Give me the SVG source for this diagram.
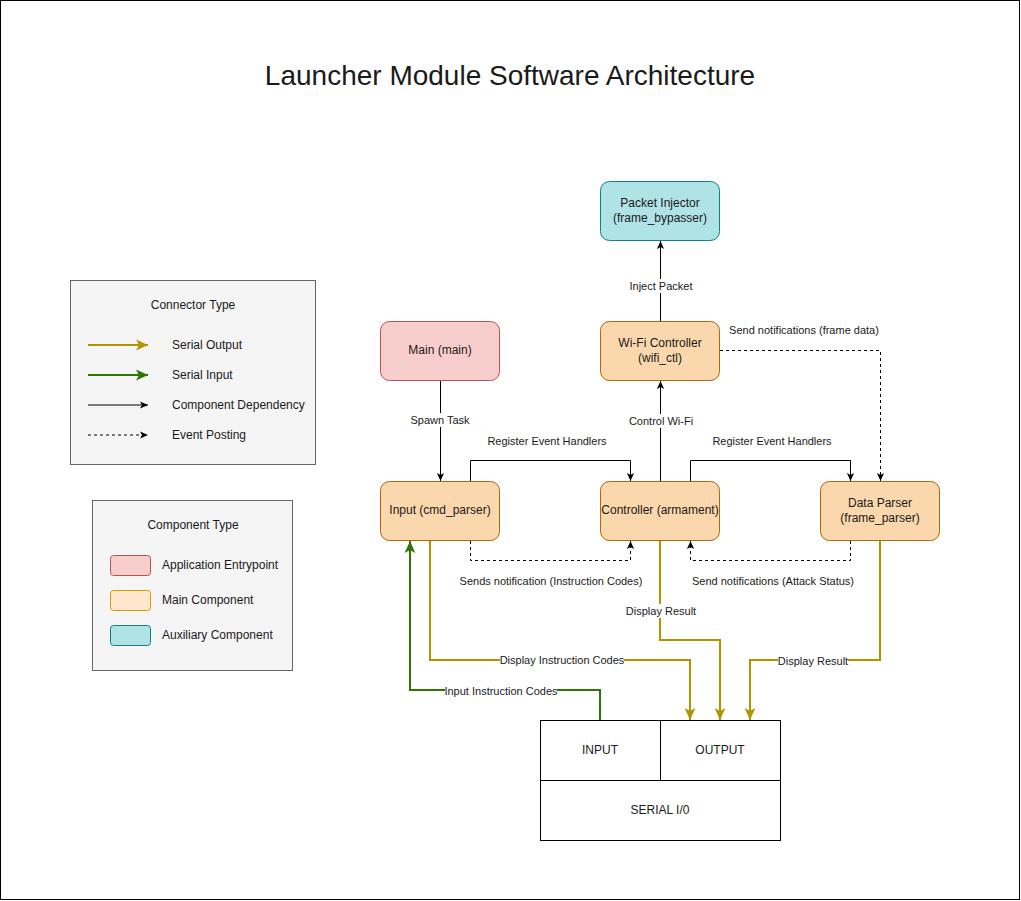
<svg xmlns="http://www.w3.org/2000/svg" width="1021" height="901" viewBox="0 0 1021 901">
<style>
text{font-family:"Liberation Sans",Arial,sans-serif;font-size:12px;fill:#1a1a1a;text-anchor:middle}
.t{dominant-baseline:central}
.lft{text-anchor:start}
.e{font-size:11px}
.main{fill:#fad7ac;stroke:#b46504;stroke-width:1}
.app{fill:#f8cecc;stroke:#b85450;stroke-width:1}
.aux{fill:#b0e3e6;stroke:#0e8088;stroke-width:1}
.mainL{fill:#ffe6cc;stroke:#d79b00;stroke-width:1}
.leg{fill:#f5f5f5;stroke:#666666;stroke-width:1}
.dep{fill:none;stroke:#000;stroke-width:1;marker-end:url(#ab)}
.evt{fill:none;stroke:#000;stroke-width:1;stroke-dasharray:3 3;marker-end:url(#ab)}
.out{fill:none;stroke:#b09500;stroke-width:2;marker-end:url(#ay)}
.in{fill:none;stroke:#2d7600;stroke-width:2;marker-end:url(#ag)}
.lbl{fill:#ffffff}
.cell{fill:#ffffff;stroke:#000;stroke-width:1}
</style>
<defs>
<marker id="ab" viewBox="0 0 10 10" refX="10" refY="5" markerWidth="8" markerHeight="8" markerUnits="userSpaceOnUse" orient="auto"><path d="M0,0.5 L10,5 L0,9.5 L2.5,5 Z" fill="#000"/></marker>
<marker id="ay" viewBox="0 0 10 10" refX="10" refY="5" markerWidth="12" markerHeight="12" markerUnits="userSpaceOnUse" orient="auto"><path d="M0,0.5 L10,5 L0,9.5 L2.5,5 Z" fill="#b09500"/></marker>
<marker id="ag" viewBox="0 0 10 10" refX="10" refY="5" markerWidth="12" markerHeight="12" markerUnits="userSpaceOnUse" orient="auto"><path d="M0,0.5 L10,5 L0,9.5 L2.5,5 Z" fill="#2d7600"/></marker>
</defs>
<rect x="0.5" y="0.5" width="1019" height="899" fill="#ffffff" stroke="#000" stroke-width="1"/>
<text x="510" y="75" class="t" style="font-size:28px">Launcher Module Software Architecture</text>

<g id="legend-connector">
<rect x="70.5" y="280.5" width="245" height="184" class="leg"/>
<text x="193" y="305" class="t">Connector Type</text>
<line x1="88" y1="345" x2="148" y2="345" class="out"/>
<text x="172" y="345" class="t lft">Serial Output</text>
<line x1="88" y1="375" x2="148" y2="375" class="in"/>
<text x="172" y="375" class="t lft">Serial Input</text>
<line x1="88" y1="405" x2="148" y2="405" class="dep"/>
<text x="172" y="405" class="t lft">Component Dependency</text>
<line x1="88" y1="435" x2="148" y2="435" class="evt"/>
<text x="172" y="435" class="t lft">Event Posting</text>
</g>

<g id="legend-component">
<rect x="92.5" y="500.5" width="200" height="170" class="leg"/>
<text x="193" y="525" class="t">Component Type</text>
<rect x="110.5" y="555.5" width="40" height="20" rx="3" class="app"/>
<text x="162" y="565" class="t lft">Application Entrypoint</text>
<rect x="110.5" y="590.5" width="40" height="20" rx="3" class="mainL"/>
<text x="162" y="600" class="t lft">Main Component</text>
<rect x="110.5" y="625.5" width="40" height="20" rx="3" class="aux"/>
<text x="162" y="635" class="t lft">Auxiliary Component</text>
</g>

<g id="connectors">
<path d="M440.5,381 V481" class="dep"/>
<rect x="411" y="413" width="59" height="14" class="lbl"/>
<text x="440" y="420" class="t e">Spawn Task</text>

<path d="M470.5,481 V460.5 H630.5 V481" class="dep"/>
<text x="547" y="441" class="t e">Register Event Handlers</text>

<path d="M690.5,481 V460.5 H850.5 V481" class="dep"/>
<text x="772" y="441" class="t e">Register Event Handlers</text>

<path d="M660.5,481 V381" class="dep"/>
<rect x="629" y="414" width="64" height="14" class="lbl"/>
<text x="661" y="421" class="t e">Control Wi-Fi</text>

<path d="M660.5,321 V241" class="dep"/>
<rect x="629" y="279" width="64" height="14" class="lbl"/>
<text x="661" y="286" class="t e">Inject Packet</text>

<path d="M720,350.5 H880.5 V481" class="evt"/>
<text x="804" y="330" class="t e">Send notifications (frame data)</text>

<path d="M470.5,541 V560.5 H630.5 V541" class="evt"/>
<text x="551" y="581" class="t e">Sends notification (Instruction Codes)</text>

<path d="M850.5,541 V560.5 H690.5 V541" class="evt"/>
<text x="773" y="581" class="t e">Send notifications (Attack Status)</text>

<path d="M430,541 V660 H690 V720" class="out"/>
<rect x="500" y="653" width="124" height="14" class="lbl"/>
<text x="562" y="660" class="t e">Display Instruction Codes</text>

<path d="M660,541 V640 H720 V720" class="out"/>
<rect x="626" y="604" width="70" height="14" class="lbl"/>
<text x="661" y="611" class="t e">Display Result</text>

<path d="M880,541 V660 H750 V720" class="out"/>
<rect x="778" y="654" width="70" height="14" class="lbl"/>
<text x="813" y="661" class="t e">Display Result</text>

<path d="M600,720 V690 H410 V541" class="in"/>
<rect x="445" y="684" width="112" height="14" class="lbl"/>
<text x="501" y="691" class="t e">Input Instruction Codes</text>
</g>

<g id="packet-injector">
<rect x="600.5" y="181.5" width="119" height="59" rx="9" class="aux"/>
<text x="660" y="203" class="t">Packet Injector</text>
<text x="660" y="218" class="t">(frame_bypasser)</text>
</g>
<g id="wifi-controller">
<rect x="600.5" y="321.5" width="119" height="59" rx="9" class="main"/>
<text x="660" y="343" class="t">Wi-Fi Controller</text>
<text x="660" y="358" class="t">(wifi_ctl)</text>
</g>
<g id="main">
<rect x="380.5" y="321.5" width="119" height="59" rx="9" class="app"/>
<text x="440" y="350" class="t">Main (main)</text>
</g>
<g id="input">
<rect x="380.5" y="481.5" width="119" height="59" rx="9" class="main"/>
<text x="440" y="510" class="t">Input (cmd_parser)</text>
</g>
<g id="controller">
<rect x="600.5" y="481.5" width="119" height="59" rx="9" class="main"/>
<text x="660" y="510" class="t">Controller (armament)</text>
</g>
<g id="data-parser">
<rect x="820.5" y="481.5" width="119" height="59" rx="9" class="main"/>
<text x="880" y="503" class="t">Data Parser</text>
<text x="880" y="518" class="t">(frame_parser)</text>
</g>
<g id="serial-io">
<rect x="540.5" y="720.5" width="120" height="60" class="cell"/>
<text x="600" y="750" class="t">INPUT</text>
<rect x="660.5" y="720.5" width="120" height="60" class="cell"/>
<text x="720" y="750" class="t">OUTPUT</text>
<rect x="540.5" y="780.5" width="240" height="60" class="cell"/>
<text x="660" y="810" class="t">SERIAL I/0</text>
</g>
</svg>
